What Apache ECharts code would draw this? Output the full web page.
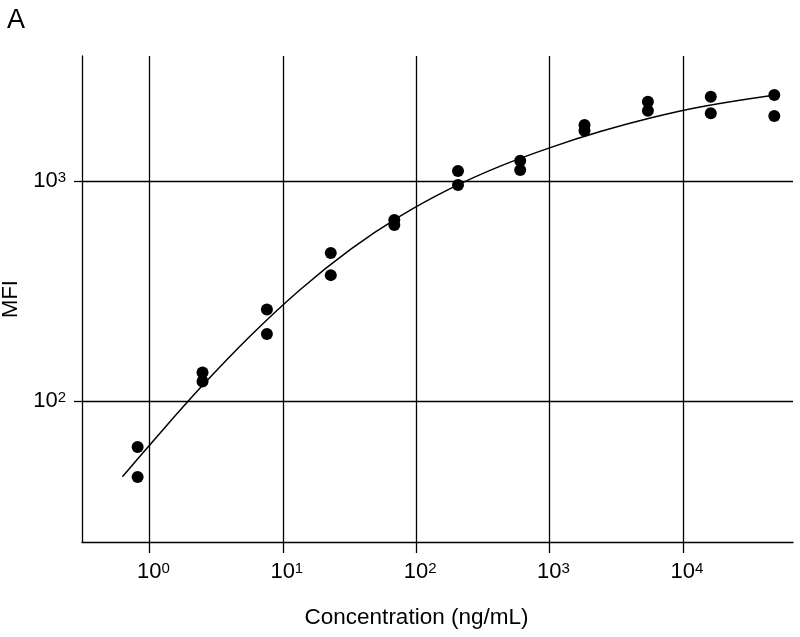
<!DOCTYPE html>
<html>
<head>
<meta charset="utf-8">
<script src="https://cdn.jsdelivr.net/npm/echarts@6/dist/echarts.min.js"></script>
<style>
html,body{margin:0;padding:0;background:#fff;}
#chart{width:800px;height:637px;}
</style>
</head>
<body>
<div id="chart"></div>
<script>
// Concentrations (ng/mL), dilution series
var concentrations = [0.815, 2.5, 7.6, 22.9, 68.6, 206, 603, 1830, 5470, 16200, 48500];
// Replicate MFI readings
var mfiRep1 = [62, 135, 261, 471, 665, 1110, 1237, 1798, 2293, 2416, 2460];
var mfiRep2 = [45.3, 123, 202, 374, 631, 960, 1122, 1694, 2088, 2032, 1973];
// Fitted curve samples (concentration, MFI)
var fitX = [0.627, 1.009, 2.398, 5.70, 13.54, 32.17, 76.46, 181.7, 431.8, 1026, 2439, 5798, 13770, 47910];
var fitY = [45.4, 63.5, 114.8, 197.9, 321.9, 489.3, 694.8, 926.5, 1172, 1423, 1682, 1938, 2175, 2452];
var xTickValues = [1, 10, 100, 1000, 10000];
var yTickValues = [100, 1000];

var points = [];
for (var i = 0; i < concentrations.length; i++) {
  points.push([concentrations[i], mfiRep1[i]]);
  points.push([concentrations[i], mfiRep2[i]]);
}
var fit = fitX.map(function (x, i) { return [x, fitY[i]]; });

var FONT = 'Liberation Sans, Arial, sans-serif';
function powLabel(v, pad) {
  var e = Math.round(Math.log(v) / Math.LN10);
  return (pad ? '{pad| }' : '') + '{b|10}{s|' + e + '}';
}
var rich = {
  pad: { width: 8, fontSize: 15, fontFamily: FONT },
  b: { fontSize: 22, fontFamily: FONT, color: '#000', verticalAlign: 'top', lineHeight: 22 },
  s: { fontSize: 15, fontFamily: FONT, color: '#000', verticalAlign: 'top', lineHeight: 22 }
};

var chart = echarts.init(document.getElementById('chart'), null, { renderer: 'canvas' });
chart.setOption({
  animation: false,
  backgroundColor: '#fff',
  title: {
    text: 'A', left: 2, top: 2,
    textStyle: { fontSize: 27, fontWeight: 'normal', fontFamily: FONT, color: '#000' }
  },
  grid: { left: 82, right: 7, top: 56, bottom: 95, containLabel: false, outerBoundsMode: 'none' },
  xAxis: {
    type: 'log', logBase: 10,
    min: 0.312, max: 67000,
    name: 'Concentration (ng/mL)', nameLocation: 'middle', nameGap: 64,
    nameTextStyle: { fontSize: 22.5, fontFamily: FONT, color: '#000', padding: [0, 42, 0, 0] },
    axisLine: { show: true, lineStyle: { color: '#000', width: 1.3 } },
    axisTick: { show: true, inside: false, length: 11, customValues: xTickValues, lineStyle: { color: '#000', width: 1.3 } },
    axisLabel: { customValues: xTickValues, margin: 19, formatter: function (v) { return powLabel(v, true); }, rich: rich },
    splitLine: { show: true, lineStyle: { color: '#000', width: 1.3 } },
    minorTick: { show: false }
  },
  yAxis: {
    type: 'log', logBase: 10,
    min: 22.96, max: 3698,
    name: 'MFI', nameLocation: 'middle', nameGap: 53, nameRotate: 90,
    nameTextStyle: { fontSize: 22, fontFamily: FONT, color: '#000' },
    axisLine: { show: true, lineStyle: { color: '#000', width: 1.3 } },
    axisTick: { show: true, inside: false, length: 8, customValues: yTickValues, lineStyle: { color: '#000', width: 1.3 } },
    axisLabel: { customValues: yTickValues, margin: 16, formatter: function (v) { return powLabel(v, false); }, rich: rich },
    splitLine: { show: true, lineStyle: { color: '#000', width: 1.3 } }
  },
  series: [
    {
      type: 'line', data: fit, smooth: 0.4, showSymbol: false, symbol: 'none',
      lineStyle: { color: '#000', width: 1.5 }, z: 3
    },
    {
      type: 'scatter', data: points, symbol: 'circle', symbolSize: 12,
      itemStyle: { color: '#000', opacity: 1 }, z: 4
    }
  ]
});
</script>
</body>
</html>
